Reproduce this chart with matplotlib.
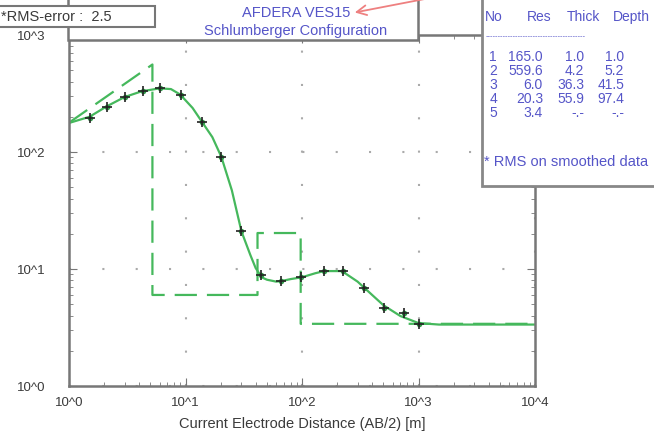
import numpy as np
import matplotlib
matplotlib.use('Agg')
import matplotlib.pyplot as plt
from matplotlib.patches import Rectangle, FancyArrowPatch

plt.rcParams['font.family'] = ['Liberation Sans', 'DejaVu Sans']

# measured apparent resistivity (field data)
ab2 = [1.5, 2.1, 3.0, 4.3, 6.0, 9.2, 13.9, 20.3, 30.2, 44.9, 66.6, 99, 153, 223, 338, 502, 747, 1005]
rho_meas = [195, 243, 295, 332, 352, 307, 180, 91, 21, 8.9, 7.9, 8.5, 9.6, 9.6, 6.9, 4.6, 4.2, 3.4]

# calculated (smoothed) curve
ab2_curve = [1.0, 1.5, 2.1, 3.0, 4.2, 6.0, 7.5, 9.0, 11.5, 13.9, 17, 20.3, 25, 30.2, 36, 40,
             45, 50, 60, 67, 80, 100, 130, 155, 220, 300, 400, 500, 700, 1000, 1500, 10000]
rho_curve = [177, 200, 245, 295, 330, 350, 345, 310, 238, 180, 134, 91, 47, 21, 13.2, 10.2,
             8.5, 8.1, 7.8, 7.9, 8.2, 8.5, 9.2, 9.6, 9.6, 7.8, 6.0, 4.9, 3.96, 3.45, 3.35, 3.35]

# layered model (dashed)
model_x = [1.0, 5.2, 5.2, 41.5, 41.5, 97.4, 97.4, 10000]
model_rho = [178, 559.6, 6.0, 6.0, 20.3, 20.3, 3.4, 3.4]

layer_no = ['1', '2', '3', '4', '5']
layer_res = ['165.0', '559.6', '6.0', '20.3', '3.4']
layer_thick = ['1.0', '4.2', '36.3', '55.9', '-.-']
layer_depth = ['1.0', '5.2', '41.5', '97.4', '-.-']

W, H = 654, 436
green = '#45b85c'
blue = '#5555c8'
gray = '#777777'
txt = '#3a3a3a'


def fx(px):
    return px / W


def fy(py):
    return 1 - py / H


fig = plt.figure(figsize=(6.54, 4.36), dpi=100)
ax = fig.add_axes([fx(69), fy(386), (535 - 69) / W, (386 - 35) / H])
ax.set_xscale('log')
ax.set_yscale('log')
ax.set_xlim(1, 1e4)
ax.set_ylim(1, 1e3)

ax.plot(model_x, model_rho, color=green, lw=1.6, dashes=(10, 4.5))
ax.plot(ab2_curve, rho_curve, color=green, lw=1.6)
ax.plot(ab2, rho_meas, 'o', color='#2f9a48', ms=4, mec='none')
ax.plot(ab2, rho_meas, '+', color='#222222', ms=7, mew=1.2)

ax.set_xticks([1, 10, 100, 1000, 10000])
ax.set_xticklabels(['10^0', '10^1', '10^2', '10^3', '10^4'])
ax.set_yticks([1, 10, 100, 1000])
ax.set_yticklabels(['10^0', '10^1', '10^2', '10^3'])
ax.grid(True, which='major', color='#aaaaaa', lw=1.5, linestyle=(0, (1, 15)))
ax.tick_params(which='both', direction='in', top=True, right=True, colors=gray, labelcolor=txt, labelsize=9.5)
ax.tick_params(axis='y', which='major', length=6, pad=17)
ax.tick_params(axis='x', which='major', length=6, pad=8)
ax.tick_params(which='minor', length=3)
ax.yaxis.set_minor_formatter(matplotlib.ticker.NullFormatter())
ax.xaxis.set_minor_formatter(matplotlib.ticker.NullFormatter())
for s in ax.spines.values():
    s.set_color(gray)
    s.set_linewidth(1.8)
ax.set_xlabel('Current Electrode Distance (AB/2) [m]', fontsize=10.5, color=txt, labelpad=6)

# title box
fig.add_artist(Rectangle((fx(68), fy(40)), fx(418 - 68), fy(-5) - fy(40), transform=fig.transFigure,
                         facecolor='white', edgecolor=gray, lw=1.8, zorder=5))
fig.text(fx(296), fy(13), 'AFDERA VES15', color=blue, fontsize=10.5, ha='center', va='center', zorder=6)
fig.text(fx(296), fy(31), 'Schlumberger Configuration', color=blue, fontsize=10.5, ha='center', va='center', zorder=6)

# rms box
fig.add_artist(Rectangle((fx(-5), fy(27)), fx(160), fy(6) - fy(27), transform=fig.transFigure,
                         facecolor='white', edgecolor=gray, lw=1.5, zorder=7))
fig.text(fx(1), fy(17), '*RMS-error :  2.5', color=txt, fontsize=10.5, ha='left', va='center', zorder=8)

# red arrow
fig.add_artist(FancyArrowPatch((fx(435), fy(-3)), (fx(352), fy(13)), transform=fig.transFigure,
                               arrowstyle='->,head_length=7,head_width=3.5', color='#ee8080',
                               lw=1.3, zorder=9))

# layer table box
fig.add_artist(Rectangle((fx(482), fy(186)), fx(200), fy(-5) - fy(186), transform=fig.transFigure,
                         facecolor='white', edgecolor='#888888', lw=2, zorder=5))
hdr_y = 17
fs = 10
fig.text(fx(485), fy(hdr_y), 'No', color=blue, fontsize=fs, ha='left', va='center', zorder=6)
fig.text(fx(551), fy(hdr_y), 'Res', color=blue, fontsize=fs, ha='right', va='center', zorder=6)
fig.text(fx(600), fy(hdr_y), 'Thick', color=blue, fontsize=fs, ha='right', va='center', zorder=6)
fig.text(fx(650), fy(hdr_y), 'Depth', color=blue, fontsize=fs, ha='right', va='center', zorder=6)
fig.text(fx(486), fy(37), '-' * 40, color=blue, fontsize=5.5, ha='left', va='center', zorder=6)
for i in range(len(layer_no)):
    yy = fy(57 + i * 14)
    fig.text(fx(497), yy, layer_no[i], color=blue, fontsize=fs, ha='right', va='center', zorder=6)
    fig.text(fx(543), yy, layer_res[i], color=blue, fontsize=fs, ha='right', va='center', zorder=6)
    fig.text(fx(584), yy, layer_thick[i], color=blue, fontsize=fs, ha='right', va='center', zorder=6)
    fig.text(fx(624), yy, layer_depth[i], color=blue, fontsize=fs, ha='right', va='center', zorder=6)
fig.text(fx(484), fy(162), '* RMS on smoothed data', color=blue, fontsize=10.5, ha='left', va='center', zorder=6)

fig.savefig('out.png', dpi=100)
